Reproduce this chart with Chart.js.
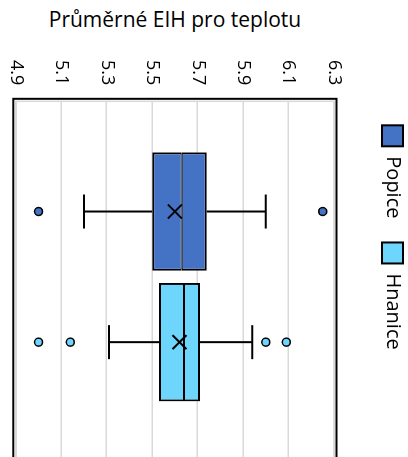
<!DOCTYPE html>
<html lang="cs">
<head>
<meta charset="utf-8">
<title>Průměrné EIH pro teplotu</title>
<script src="https://cdn.jsdelivr.net/npm/chart.js@4/dist/chart.umd.min.js"></script>
<style>
  html, body { margin: 0; padding: 0; background: #fff; }
  body { width: 408px; height: 457px; overflow: hidden; position: relative; font-family: 'Open Sans', sans-serif; }
  #titulek { position: absolute; left: 0; top: 5px; width: 350px; text-align: center; font-size: 21px; color: #000; white-space: nowrap; }
  /* graf je kreslený nastojato a otočený o 90° po směru hodin */
  #graf { position: absolute; left: 0; top: 0; transform-origin: 0 0; transform: translate(427px, 40px) rotate(90deg); }
</style>
</head>
<body>
<div id="titulek">Průměrné EIH pro teplotu</div>
<canvas id="graf" width="543" height="438"></canvas>
<script>
// Data krabicových grafů
const serie = ['Popice', 'Hnanice'];
const barvy = ['#4472C4', '#6ED6FD'];
const dolniVous = [5.20, 5.31];
const prvniKvartil = [5.50, 5.53];
const median = [5.63, 5.64];
const tretiKvartil = [5.74, 5.71];
const horniVous = [6.00, 5.94];
const prumer = [5.60, 5.62];
const odlehle = [[5.00, 6.25], [5.00, 5.14, 6.00, 6.09]];

// Osa hodnot
const osaMin = 4.9;
const osaMax = 6.3;
const osaKrok = 0.2;

const PISMO = "'Open Sans', sans-serif";

// Krabice = dvě plovoucí sloupce (Q1–medián, medián–Q3) ve stejném stacku
const datasety = [];
serie.forEach(function(nazev, i) {
  datasety.push({
    label: nazev,
    data: [[prvniKvartil[i], median[i]]],
    stack: nazev,
    backgroundColor: barvy[i],
    borderColor: '#000',
    borderWidth: { left: 2, right: 2, bottom: 2, top: 1 },
    borderSkipped: false
  });
  datasety.push({
    label: nazev,
    data: [[median[i], tretiKvartil[i]]],
    stack: nazev,
    backgroundColor: barvy[i],
    borderColor: '#000',
    borderWidth: { left: 2, right: 2, top: 2, bottom: 1 },
    borderSkipped: false
  });
});
// prázdné místo za druhou řadou (jako v Excelu)
datasety.push({ label: '', data: [null], stack: 'rezerva' });

function stredSerie(chart, i) {
  return chart.getDatasetMeta(i * 2).data[0].x;
}

// Vousy, průměr, odlehlé body a rámeček
const krabicovyGraf = {
  id: 'krabicovyGraf',
  beforeDatasetsDraw(chart) {
    const ctx = chart.ctx;
    const a = chart.chartArea;
    const y = chart.scales.y;
    ctx.save();
    ctx.strokeStyle = '#d9d9d9';
    ctx.lineWidth = 1.5;
    ctx.strokeRect(a.left, a.top, a.right - a.left, a.bottom - a.top);
    ctx.strokeStyle = '#000';
    ctx.lineWidth = 2;
    ctx.strokeRect(a.left - 2.5, a.top - 2.5, a.right - a.left + 5, a.bottom - a.top + 5);

    serie.forEach(function(_, i) {
      const x = stredSerie(chart, i);
      ctx.beginPath();
      ctx.moveTo(x, y.getPixelForValue(dolniVous[i]));
      ctx.lineTo(x, y.getPixelForValue(prvniKvartil[i]));
      ctx.moveTo(x, y.getPixelForValue(tretiKvartil[i]));
      ctx.lineTo(x, y.getPixelForValue(horniVous[i]));
      [dolniVous[i], horniVous[i]].forEach(function(v) {
        const py = y.getPixelForValue(v);
        ctx.moveTo(x - 17, py);
        ctx.lineTo(x + 17, py);
      });
      ctx.stroke();
    });
    ctx.restore();
  },
  afterDatasetsDraw(chart) {
    const ctx = chart.ctx;
    const y = chart.scales.y;
    ctx.save();
    serie.forEach(function(_, i) {
      const x = stredSerie(chart, i);
      // průměr jako křížek
      const py = y.getPixelForValue(prumer[i]);
      ctx.strokeStyle = '#000';
      ctx.lineWidth = 2;
      ctx.beginPath();
      ctx.moveTo(x - 7, py - 7);
      ctx.lineTo(x + 7, py + 7);
      ctx.moveTo(x + 7, py - 7);
      ctx.lineTo(x - 7, py + 7);
      ctx.stroke();
      // odlehlé hodnoty
      ctx.fillStyle = barvy[i];
      ctx.lineWidth = 1.5;
      odlehle[i].forEach(function(v) {
        ctx.beginPath();
        ctx.arc(x, y.getPixelForValue(v), 4, 0, Math.PI * 2);
        ctx.fill();
        ctx.stroke();
      });
    });
    ctx.restore();
  }
};

new Chart(document.getElementById('graf'), {
  type: 'bar',
  data: {
    labels: [''],
    datasets: datasety
  },
  plugins: [krabicovyGraf],
  options: {
    responsive: false,
    animation: false,
    layout: {
      padding: { left: 4, right: 0, top: 0, bottom: 0 }
    },
    datasets: {
      bar: {
        categoryPercentage: 0.8136,
        barPercentage: 0.9065
      }
    },
    plugins: {
      tooltip: { enabled: false },
      legend: {
        position: 'top',
        align: 'start',
        fullSize: false,
        labels: {
          boxWidth: 21,
          boxHeight: 21,
          padding: 24,
          color: '#000',
          font: { family: PISMO, size: 20 },
          generateLabels: function() {
            return serie.map(function(nazev, i) {
              return {
                text: nazev,
                fillStyle: barvy[i],
                strokeStyle: '#000',
                lineWidth: 2,
                hidden: false,
                datasetIndex: i * 2
              };
            });
          }
        },
        onClick: function() {}
      }
    },
    scales: {
      x: {
        position: 'top',
        grid: { display: false },
        border: { display: false },
        ticks: { display: false },
        afterFit: function(scale) { scale.height = 38; }
      },
      y: {
        min: osaMin,
        max: osaMax,
        stacked: false,
        border: { display: false },
        grid: { color: '#d9d9d9', lineWidth: 1.5, drawTicks: false },
        ticks: {
          stepSize: osaKrok,
          padding: 16,
          color: '#000',
          font: { family: PISMO, size: 18 },
          callback: function(v) { return Number(v).toFixed(1); }
        }
      }
    }
  }
});
</script>
</body>
</html>
